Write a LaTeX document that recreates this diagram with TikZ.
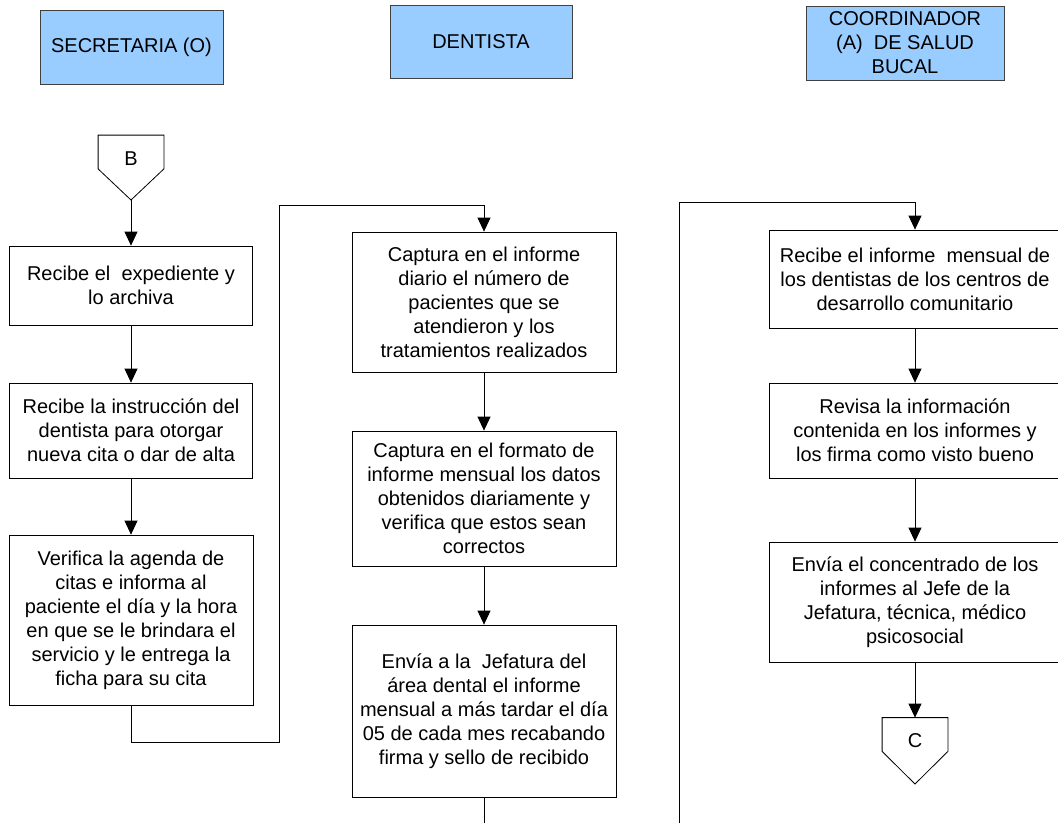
\documentclass[tikz,border=0pt]{standalone}
\usepackage{fontspec}
\setmainfont{Liberation Sans}
\usetikzlibrary{arrows.meta}
\definecolor{headblue}{RGB}{153,204,255}

\begin{document}
\begin{tikzpicture}[x=1pt, y=-1pt, line width=0.8pt,
  every node/.style={font=\fontsize{20}{24}\selectfont, align=center, inner sep=0pt},
  header/.style={draw=black!75, fill=headblue},
  task/.style={draw, fill=white},
  offpage/.style={minimum width=65, minimum height=33},
  flow/.style={-{Triangle[length=14pt,width=13pt]}}]
\useasboundingbox (0,0) rectangle (1058,823);

\node[header, minimum width=183, minimum height=74] (secre) at (131.5,47) {SECRETARIA (O)};
\node[header, minimum width=182, minimum height=73] (denti) at (481,42) {DENTISTA};
\node[header, minimum width=198, minimum height=74] (coord) at (905,43) {COORDINADOR\\(A)~ DE SALUD\\BUCAL};

\node[offpage] (b) at (131,152) {\raisebox{-13pt}[0pt][0pt]{B}};
\draw (b.north west) -- (b.north east) -- (b.south east) -- (131,200) coordinate (btip) -- (b.south west) -- cycle;
\node[task, minimum width=243, minimum height=79] (recibe) at (131,285.5) {Recibe el~ expediente y\\lo archiva};
\node[task, minimum width=243, minimum height=95] (instruc) at (131,430.5) {Recibe la instrucción del\\dentista para otorgar\\nueva cita o dar de alta};
\node[task, minimum width=244, minimum height=170] (agenda) at (131,620) {Verifica la agenda de\\citas e informa al\\paciente el día y la hora\\en que se le brindara el\\servicio y le entrega la\\ficha para su cita};

\node[task, minimum width=264, minimum height=140] (diario) at (484,302) {Captura en el informe\\diario el número de\\pacientes que se\\atendieron y los\\tratamientos realizados};
\node[task, minimum width=264, minimum height=135] (mensual) at (484,498.5) {Captura en el formato de\\informe mensual los datos\\obtenidos diariamente y\\verifica que estos sean\\correctos};
\node[task, minimum width=264, minimum height=172] (envia) at (484,711) {Envía a la~ Jefatura del\\área dental el informe\\mensual a más tardar el día\\05 de cada mes recabando\\firma y sello de recibido};

\node[task, minimum width=292, minimum height=98] (recinf) at (915,279) {Recibe el informe~ mensual de\\los dentistas de los centros de\\desarrollo comunitario};
\node[task, minimum width=292, minimum height=95] (revisa) at (915,430.5) {Revisa la información\\contenida en los informes y\\los firma como visto bueno};
\node[task, minimum width=292, minimum height=120] (concen) at (915,602) {Envía el concentrado de los\\informes al Jefe de la\\Jefatura, técnica, médico\\psicosocial};
\node[offpage] (c) at (915,734.5) {\raisebox{-13pt}[0pt][0pt]{C}};
\draw (c.north west) -- (c.north east) -- (c.south east) -- (915,784) -- (c.south west) -- cycle;

\coordinate (cross) at (279,205);
\coordinate (out2) at (484,823);
\coordinate (in3) at (679,823);

\draw[flow] (btip) -- (recibe);
\draw[flow] (recibe) -- (instruc);
\draw[flow] (instruc) -- (agenda);
\draw[flow] (agenda.south) -- ++(0,37) -| (cross) -| (diario.north);
\draw[flow] (diario) -- (mensual);
\draw[flow] (mensual) -- (envia);
\draw (envia.south) -- (out2);
\draw[flow] (in3) |- ([yshift=27pt]recinf.north) -- (recinf.north);
\draw[flow] (recinf) -- (revisa);
\draw[flow] (revisa) -- (concen);
\draw[flow] (concen) -- (c.north);
\end{tikzpicture}
\end{document}
